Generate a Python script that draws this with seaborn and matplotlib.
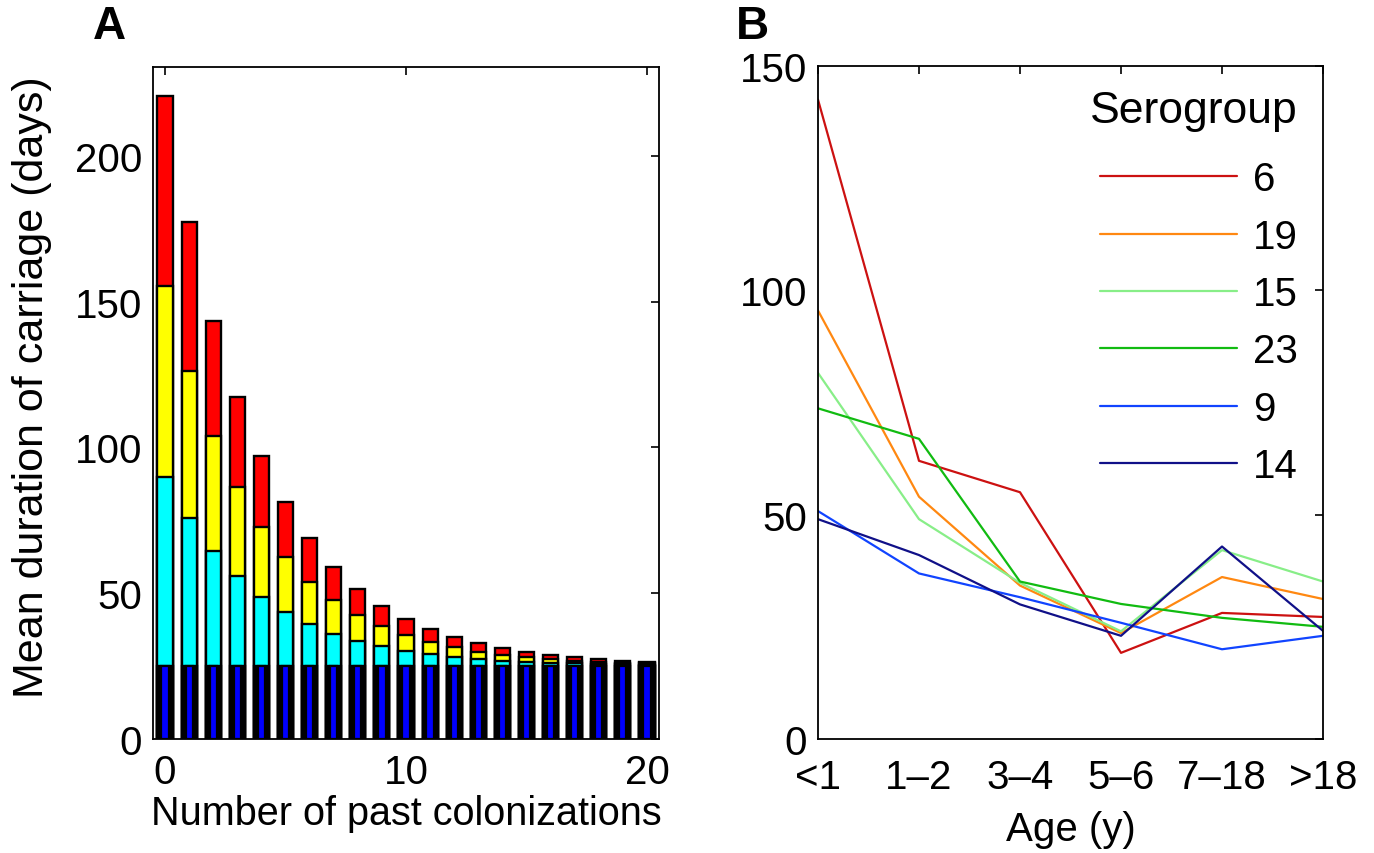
import numpy as np
import pandas as pd
import matplotlib
matplotlib.use("Agg")
import matplotlib.pyplot as plt
import seaborn as sns

# ---------------- Data ----------------
# Panel A: number of past colonizations and cumulative stack tops (days)
colonizations = list(range(21))
base_top = [25.0] * 21
cyan_top = [90.0, 75.7, 64.4, 55.8, 48.8, 43.7, 39.5, 36.0, 33.7, 31.8, 30.3,
            29.1, 28.2, 27.5, 26.9, 26.5, 26.2, 25.9, 25.7, 25.6, 25.4]
yellow_top = [155.3, 126.3, 104.0, 86.6, 72.8, 62.3, 54.0, 47.7, 42.4, 38.6, 35.6,
              33.2, 31.4, 30.0, 28.9, 28.0, 27.4, 26.8, 26.4, 26.1, 25.9]
total_top = [220.5, 177.2, 143.5, 117.2, 97.2, 81.2, 68.8, 59.1, 51.6, 45.7, 41.3,
             37.7, 35.0, 32.8, 31.1, 29.8, 28.7, 28.0, 27.3, 26.9, 26.5]

# Panel B: mean duration by age group for each serogroup
age_groups = ["<1", "1\u20132", "3\u20134", "5\u20136", "7\u201318", ">18"]
serogroups = ["6", "19", "15", "23", "9", "14"]
sg6 = [142.5, 62.0, 55.0, 19.2, 28.1, 27.2]
sg19 = [95.5, 54.0, 34.2, 23.6, 36.1, 31.2]
sg15 = [81.6, 49.0, 34.8, 24.0, 42.1, 35.1]
sg23 = [73.7, 66.9, 35.1, 30.1, 27.0, 25.0]
sg9 = [50.8, 36.9, 31.6, 25.9, 20.0, 23.0]
sg14 = [49.0, 41.0, 30.0, 23.0, 42.9, 24.1]
series_b = [sg6, sg19, sg15, sg23, sg9, sg14]
line_colors = ["#cc1111", "#ff8811", "#88ee88", "#11bb11", "#1144ff", "#101088"]

# ---------------- Style ----------------
sns.set_style("white")
plt.rcParams["font.family"] = ["Liberation Sans", "DejaVu Sans"]
for k in ("text.color", "axes.labelcolor", "xtick.color", "ytick.color"):
    plt.rcParams[k] = "black"
FS = 29

fig = plt.figure(figsize=(13.74, 8.54), dpi=100)
axA = fig.add_axes([153 / 1374, 1 - 740 / 854, 506 / 1374, 672 / 854])
axB = fig.add_axes([818 / 1374, 1 - 740 / 854, 505 / 1374, 673 / 854])

# ---------------- Panel A ----------------
dfA = pd.DataFrame({"n": colonizations, "total": total_top, "yellow": yellow_top,
                    "cyan": cyan_top, "base": base_top})
layers = [("total", "#ff0000", 0.63, 1.7), ("yellow", "#ffff00", 0.63, 1.7),
          ("cyan", "#00ffff", 0.63, 1.7), ("base", "#000000", 0.63, 1.7),
          ("base", "#0000ff", 0.30, 1.6)]
for col, colr, w, lw in layers:
    sns.barplot(data=dfA, x="n", y=col, native_scale=True, color=colr,
                saturation=1, width=w, edgecolor="black", linewidth=lw,
                errorbar=None, ax=axA)
axA.set_xlim(-0.5, 20.5)
axA.set_ylim(0, 230.5)
axA.set_xticks([0, 10, 20])
axA.set_yticks([0, 50, 100, 150, 200])
axA.set_xlabel("Number of past colonizations", fontsize=28.5, labelpad=2)
axA.set_ylabel("Mean duration of carriage (days)", fontsize=31)
axA.yaxis.set_label_coords(-0.2, 0.525)

# ---------------- Panel B ----------------
rows = []
for sg, vals in zip(serogroups, series_b):
    for ag, v in zip(age_groups, vals):
        rows.append({"Age": ag, "Duration": v, "Serogroup": sg})
dfB = pd.DataFrame(rows)
dfB["Age"] = pd.Categorical(dfB["Age"], categories=age_groups, ordered=True)
dfB["pos"] = dfB["Age"].cat.codes
sns.lineplot(data=dfB, x="pos", y="Duration", hue="Serogroup",
             hue_order=serogroups, palette=dict(zip(serogroups, line_colors)),
             linewidth=1.6, sort=False, ax=axB)
axB.set_xlim(0, len(age_groups) - 1)
axB.set_ylim(0, 150)
axB.set_xticks(range(len(age_groups)))
axB.set_xticklabels(age_groups)
axB.set_yticks([0, 50, 100, 150])
axB.set_ylabel("")

for ax in (axA, axB):
    for sp in ax.spines.values():
        sp.set_visible(True)
        sp.set_color("black")
        sp.set_linewidth(1.3)
    ax.tick_params(direction="in", length=6, width=1.2, top=True, right=True,
                   labelsize=FS, pad=8, colors="black")
axA.tick_params(axis="x", pad=10)
axB.tick_params(axis="x", pad=14)
axB.set_xlabel("Age (y)", fontsize=FS, labelpad=10)

handles, labels = axB.get_legend_handles_labels()
leg = axB.legend(handles, labels, title="Serogroup", frameon=False, fontsize=FS,
                 title_fontsize=32, loc="upper right",
                 bbox_to_anchor=(0.998, 1.0), handlelength=3.4,
                 handletextpad=0.4, labelspacing=0.48, borderaxespad=0.2)
leg._legend_box.align = "right"
leg._legend_box.sep = 21

fig.text(93 / 1374, 1 - 27 / 854, "A", fontsize=33, fontweight="bold", va="center")
fig.text(736 / 1374, 1 - 27 / 854, "B", fontsize=33, fontweight="bold", va="center")

fig.savefig("out.png", dpi=100)
